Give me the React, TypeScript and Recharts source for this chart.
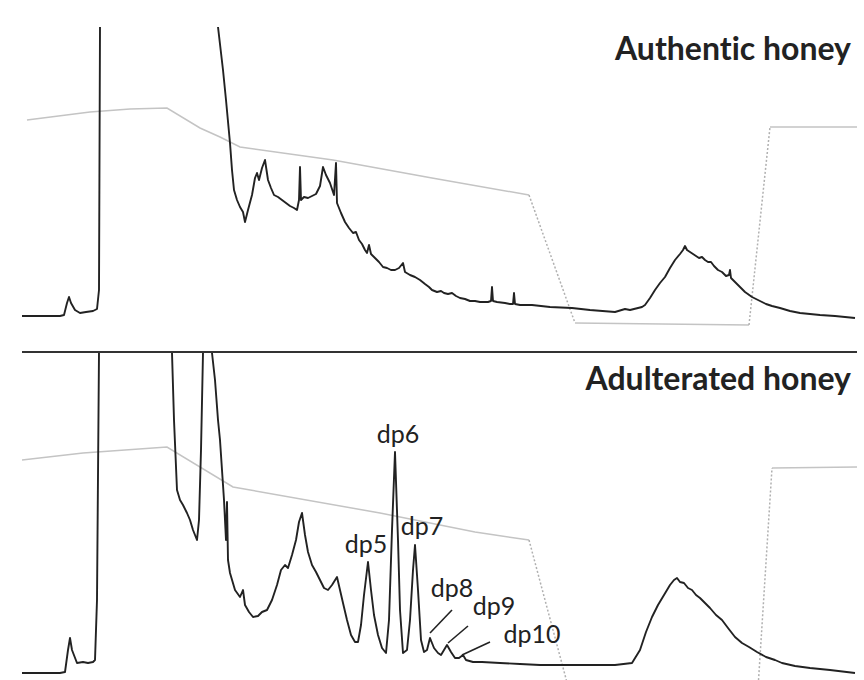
import React from 'react';
import { LineChart, Line, XAxis, YAxis, ReferenceLine, ReferenceDot, Customized } from 'recharts';

// [retention time (min), detector response (nC)]
const authenticTrace = [
  [0, 11], [1.9, 11], [2.1, 12], [2.25, 24], [2.35, 30], [2.45, 24], [2.65, 17], [2.9, 14], [3.2, 15], [3.55, 16],
  [3.75, 18], [3.85, 37], [3.9, 300], [3.95, 600], [9.75, 600], [9.8, 300], [10.05, 257], [10.2, 227], [10.4, 184],
  [10.5, 157], [10.6, 137], [10.75, 127], [10.9, 120], [11.05, 115], [11.15, 105], [11.3, 117], [11.5, 132],
  [11.65, 149], [11.75, 154], [11.85, 147], [12.0, 159], [12.15, 167], [12.3, 147], [12.45, 139], [12.6, 132],
  [12.8, 130], [13.0, 127], [13.2, 124], [13.4, 121], [13.6, 119], [13.75, 117], [13.85, 127], [13.9, 160],
  [13.95, 127], [14.1, 130], [14.3, 129], [14.5, 131], [14.7, 133], [14.9, 141], [15.05, 160], [15.2, 152],
  [15.4, 144], [15.6, 132], [15.7, 164], [15.75, 124], [15.95, 114], [16.15, 105], [16.35, 99], [16.55, 94],
  [16.7, 95], [16.85, 87], [17.0, 83], [17.15, 77], [17.25, 74], [17.35, 82], [17.45, 73], [17.65, 69], [17.85, 65],
  [18.05, 60], [18.25, 59], [18.45, 57], [18.65, 57], [18.85, 59], [19.05, 64], [19.15, 55], [19.4, 52], [19.65, 50],
  [19.9, 47], [20.15, 43], [20.35, 40], [20.5, 37], [20.75, 35], [20.95, 36], [21.1, 34], [21.3, 33], [21.5, 34],
  [21.7, 31], [21.9, 29], [22.15, 28], [22.4, 26], [22.65, 26], [22.9, 25], [23.3, 25], [23.45, 26], [23.5, 40],
  [23.55, 26], [23.75, 25], [24.15, 24], [24.4, 23], [24.55, 23], [24.6, 34], [24.65, 23], [24.9, 22], [25.5, 22],
  [26.4, 20], [27.5, 19], [28.4, 17], [29.65, 15], [30.15, 18], [30.4, 17], [31.0, 20], [31.15, 22], [31.4, 29],
  [31.65, 37], [31.9, 44], [32.15, 50], [32.4, 59], [32.65, 67], [32.9, 73], [33.05, 77], [33.15, 81], [33.25, 77],
  [33.4, 75], [33.55, 73], [33.7, 71], [33.85, 69], [34.0, 70], [34.15, 67], [34.3, 65], [34.45, 65], [34.6, 61],
  [34.8, 57], [35.0, 55], [35.2, 51], [35.35, 52], [35.4, 57], [35.45, 49], [35.65, 45], [35.9, 40], [36.15, 35],
  [36.5, 30], [36.9, 26], [37.2, 23], [37.5, 21], [37.9, 19], [38.4, 16], [38.9, 14], [39.4, 13], [39.9, 12],
  [40.65, 11], [41.65, 9],
];

const adulteratedTrace = [
  [0, 9], [1.9, 9], [2.15, 10], [2.3, 32], [2.4, 44], [2.5, 32], [2.75, 19], [3.05, 20], [3.3, 19], [3.55, 20],
  [3.65, 22], [3.75, 82], [3.85, 330], [3.9, 700], [7.45, 700], [7.5, 329], [7.6, 262], [7.75, 192], [7.9, 182],
  [8.05, 177], [8.25, 169], [8.4, 162], [8.55, 152], [8.75, 142], [8.85, 162], [8.95, 232], [9.05, 329], [9.2, 500],
  [9.35, 500], [9.5, 329], [9.65, 302], [9.8, 262], [9.9, 242], [10.1, 182], [10.2, 142], [10.25, 180], [10.3, 122],
  [10.4, 109], [10.65, 92], [10.9, 85], [11.05, 92], [11.15, 77], [11.35, 70], [11.55, 65], [11.8, 66], [12.0, 70],
  [12.25, 72], [12.5, 82], [12.75, 97], [12.95, 112], [13.15, 117], [13.3, 114], [13.5, 127], [13.7, 142],
  [13.85, 160], [14.0, 169], [14.15, 147], [14.3, 130], [14.5, 117], [14.7, 110], [14.9, 102], [15.1, 94],
  [15.3, 92], [15.5, 97], [15.75, 105], [15.9, 92], [16.05, 79], [16.25, 62], [16.45, 47], [16.65, 40], [16.8, 40],
  [16.95, 57], [17.1, 87], [17.3, 120], [17.45, 92], [17.6, 67], [17.8, 47], [18.0, 34], [18.2, 29], [18.35, 62],
  [18.5, 152], [18.65, 230], [18.8, 142], [18.9, 72], [19.05, 29], [19.25, 32], [19.4, 62], [19.55, 112],
  [19.65, 137], [19.8, 92], [19.95, 42], [20.1, 30], [20.25, 32], [20.4, 44], [20.6, 34], [20.8, 29], [20.95, 27],
  [21.1, 32], [21.25, 37], [21.45, 30], [21.65, 24], [21.85, 24], [22.05, 27], [22.2, 22], [22.55, 20], [23.0, 20],
  [23.9, 19], [24.9, 18], [25.9, 17], [27.15, 17], [28.4, 17], [29.65, 17], [30.5, 19], [30.9, 32], [31.2, 50],
  [31.5, 65], [31.8, 77], [32.1, 87], [32.4, 97], [32.6, 102], [32.75, 104], [32.9, 100], [33.1, 99], [33.3, 94],
  [33.5, 92], [33.7, 87], [33.9, 84], [34.15, 79], [34.4, 74], [34.7, 67], [35.0, 62], [35.3, 54], [35.65, 45],
  [36.0, 39], [36.35, 35], [36.75, 30], [37.2, 25], [37.65, 22], [38.0, 19], [38.65, 16], [39.4, 14], [40.4, 12],
  [41.65, 9],
];

// eluent programme drawn in grey behind each trace
const authenticGradient = [
  [0.25, 207], [3.4, 215], [5.4, 218], [7.25, 219], [8.9, 199], [9.9, 190], [10.9, 180], [15.55, 167],
  [20.5, 149], [25.35, 132], [27.65, 4], [36.35, 2], [37.4, 200], [41.75, 200],
];
const adulteratedGradient = [
  [0, 222], [3.05, 229], [7.25, 235], [10.55, 195], [17.9, 169], [22.65, 150], [25.35, 142], [27.75, -38],
  [36.7, -38], [37.5, 214], [41.75, 215],
];

// oligosaccharide peaks marked in the adulterated sample
const peakNames = ['dp5', 'dp6', 'dp7', 'dp8', 'dp9', 'dp10'];
const peakTimes = [17.3, 18.65, 19.65, 20.4, 21.25, 22.05];
const peakHeights = [120, 230, 137, 44, 37, 27];

const TIME_MAX = 41.75;
const INK = '#222';
const GREY = '#c4c4c4';
const FONT = 'Lato, "Open Sans", sans-serif';

const toPoints = (rows: number[][]) => rows.map(([t, v]) => ({ t, v }));

// steep parts of the eluent line come out dotted, the rest solid
function splitGradient(rows: number[][]) {
  const solid: { t: number; v: number | null }[] = [];
  const dotted: { t: number; v: number | null }[] = [];
  rows.forEach(([t, v], i) => {
    solid.push({ t, v });
    const next = rows[i + 1];
    if (next && Math.abs((next[1] - v) / (next[0] - t)) > 30) {
      solid.push({ t: (t + next[0]) / 2, v: null });
      dotted.push({ t, v }, { t: next[0], v: next[1] }, { t: next[0] + 0.001, v: null });
    }
  });
  return { solid, dotted };
}

// text / leader offsets in px from the apex of each peak
const labelOffsets = [
  { dx: -2, dy: -9 },
  { dx: 3, dy: -9 },
  { dx: 7, dy: -10 },
  { dx: 22, dy: -41, line: [0, -5, 22, -28] },
  { dx: 47, dy: -30, line: [1, -2, 21, -19] },
  { dx: 69, dy: -12, line: [-1, 0, 27, -13] },
];

function peakLabel(name: string, i: number) {
  const o = labelOffsets[i];
  return (props: any) => {
    const cx = props.viewBox.x + 1;
    const cy = props.viewBox.y + 1;
    return (
      <g>
        {o.line && (
          <line x1={cx + o.line[0]} y1={cy + o.line[1]} x2={cx + o.line[2]} y2={cy + o.line[3]} stroke={INK} strokeWidth={1.6} />
        )}
        <text x={cx + o.dx} y={cy + o.dy} textAnchor="middle" fontSize={25} fontFamily={FONT} fill={INK}>
          {name}
        </text>
      </g>
    );
  };
}

function Panel({ trace, gradient, yMax, height, margin, title, titleY, children }: any) {
  const g = splitGradient(gradient);
  return (
    <LineChart width={864} height={height} margin={margin}>
      <XAxis type="number" dataKey="t" domain={[0, TIME_MAX]} hide allowDataOverflow />
      <YAxis type="number" domain={[0, yMax]} hide allowDataOverflow />
      <Line data={g.solid} dataKey="v" stroke={GREY} strokeWidth={1.5} dot={false} activeDot={false} isAnimationActive={false} connectNulls={false} />
      <Line data={g.dotted} dataKey="v" stroke="#b0b0b0" strokeWidth={1.5} strokeDasharray="2 2" dot={false} activeDot={false} isAnimationActive={false} connectNulls={false} />
      <Line data={toPoints(trace)} dataKey="v" stroke={INK} strokeWidth={1.9} strokeLinejoin="round" dot={false} activeDot={false} isAnimationActive={false} />
      {children}
      <Customized
        component={() => (
          <text
            x={851}
            y={titleY}
            textAnchor="end"
            fontSize={32}
            fontWeight={700}
            fontFamily={FONT}
            fill={INK}
            style={{ fontVariantLigatures: 'none' }}
          >
            {title}
          </text>
        )}
      />
    </LineChart>
  );
}

export default function App() {
  return (
    <div style={{ position: 'absolute', left: 0, top: 0, width: 864, height: 680, overflow: 'hidden', background: '#fff' }}>
      <div style={{ position: 'absolute', left: 0, top: 0, width: 864, height: 340 }}>
        <Panel
          trace={authenticTrace}
          gradient={authenticGradient}
          yMax={300}
          height={340}
          margin={{ top: 27, right: 7, bottom: 13, left: 22 }}
          title="Authentic honey"
          titleY={60}
        />
      </div>
      <div style={{ position: 'absolute', left: 0, top: 340, width: 864, height: 340, overflow: 'hidden' }}>
        <Panel
          trace={adulteratedTrace}
          gradient={adulteratedGradient}
          yMax={330}
          height={360}
          margin={{ top: 12, right: 7, bottom: 18, left: 22 }}
          title="Adulterated honey"
          titleY={50}
        >
          <ReferenceLine y={330} stroke="#333" strokeWidth={2} />
          {peakNames.map((name, i) => (
            <ReferenceDot
              key={name}
              x={peakTimes[i]}
              y={peakHeights[i]}
              r={1}
              fill="none"
              stroke="none"
              label={peakLabel(name, i)}
            />
          ))}
        </Panel>
      </div>
    </div>
  );
}
